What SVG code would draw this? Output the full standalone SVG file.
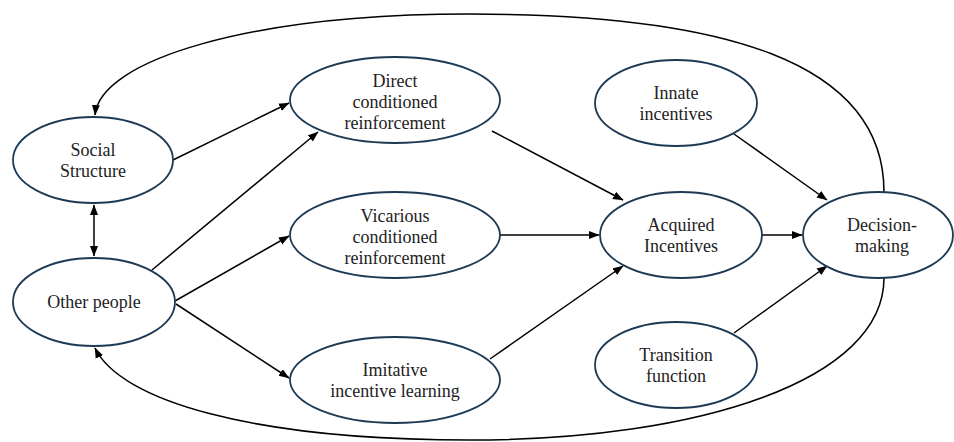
<svg xmlns="http://www.w3.org/2000/svg" width="954" height="442" viewBox="0 0 954 442" font-family="'Liberation Serif', 'Times New Roman', Tinos, 'DejaVu Serif', serif">
<style>
.node{fill:#fff;stroke:#1d3a55;stroke-width:1.8}
.lbl{font-family:'Liberation Serif', 'Times New Roman', Tinos, 'DejaVu Serif', serif;font-size:18px;fill:#222;text-anchor:middle}
.edge{fill:none;stroke:#000;stroke-width:1.5}
</style>
<defs>
<marker id="arr" markerUnits="userSpaceOnUse" markerWidth="11" markerHeight="9" refX="10" refY="4.5" orient="auto-start-reverse" viewBox="0 0 11 9">
<path d="M0,0.5 L10.5,4.5 L0,8.5 z" fill="#000"/>
</marker>
</defs>
<rect width="954" height="442" fill="#fff"/>
<g id="connectors">
<path class="edge" d="M173,160 L289,103" marker-end="url(#arr)"/>
<path class="edge" d="M152,270 L318,132" marker-end="url(#arr)"/>
<path class="edge" d="M175,301 L289,236" marker-end="url(#arr)"/>
<path class="edge" d="M176,304 L289,378" marker-end="url(#arr)"/>
<path class="edge" d="M94,205 L94,256" marker-start="url(#arr)" marker-end="url(#arr)"/>
<path class="edge" d="M492,131 L623,200" marker-end="url(#arr)"/>
<path class="edge" d="M500,235 L599,235" marker-end="url(#arr)"/>
<path class="edge" d="M490,359 L623,266" marker-end="url(#arr)"/>
<path class="edge" d="M734,134 L827,200" marker-end="url(#arr)"/>
<path class="edge" d="M762,235 L802,235" marker-end="url(#arr)"/>
<path class="edge" d="M734,333 L827,266" marker-end="url(#arr)"/>
<path class="edge" d="M884,192 C884,60 720,14 470,14 C250,14 100,60 95,115" marker-end="url(#arr)"/>
<path class="edge" d="M884,278 C884,380 700,440 470,440 C250,440 120,400 95,348" marker-end="url(#arr)"/>
</g>
<g id="social-structure">
<ellipse class="node" cx="93" cy="160" rx="80" ry="43"/>
<text class="lbl" x="93" y="156">Social</text>
<text class="lbl" x="93" y="177">Structure</text>
</g>
<g id="other-people">
<ellipse class="node" cx="94" cy="302" rx="81" ry="44"/>
<text class="lbl" x="94" y="308">Other people</text>
</g>
<g id="direct">
<ellipse class="node" cx="395" cy="100" rx="105" ry="43"/>
<text class="lbl" x="395" y="87">Direct</text>
<text class="lbl" x="395" y="108">conditioned</text>
<text class="lbl" x="395" y="129">reinforcement</text>
</g>
<g id="vicarious">
<ellipse class="node" cx="395" cy="235" rx="105" ry="43"/>
<text class="lbl" x="395" y="222">Vicarious</text>
<text class="lbl" x="395" y="243">conditioned</text>
<text class="lbl" x="395" y="264">reinforcement</text>
</g>
<g id="imitative">
<ellipse class="node" cx="395" cy="380" rx="105" ry="43"/>
<text class="lbl" x="395" y="376">Imitative</text>
<text class="lbl" x="395" y="397">incentive learning</text>
</g>
<g id="innate">
<ellipse class="node" cx="676" cy="103" rx="81" ry="43"/>
<text class="lbl" x="676" y="99">Innate</text>
<text class="lbl" x="676" y="120">incentives</text>
</g>
<g id="acquired">
<ellipse class="node" cx="681" cy="235" rx="81" ry="43"/>
<text class="lbl" x="681" y="231">Acquired</text>
<text class="lbl" x="681" y="252">Incentives</text>
</g>
<g id="decision">
<ellipse class="node" cx="878" cy="235" rx="75" ry="43"/>
<text class="lbl" x="882" y="231">Decision-</text>
<text class="lbl" x="882" y="252">making</text>
</g>
<g id="transition">
<ellipse class="node" cx="676" cy="365" rx="81" ry="43"/>
<text class="lbl" x="676" y="361">Transition</text>
<text class="lbl" x="676" y="382">function</text>
</g>
</svg>
